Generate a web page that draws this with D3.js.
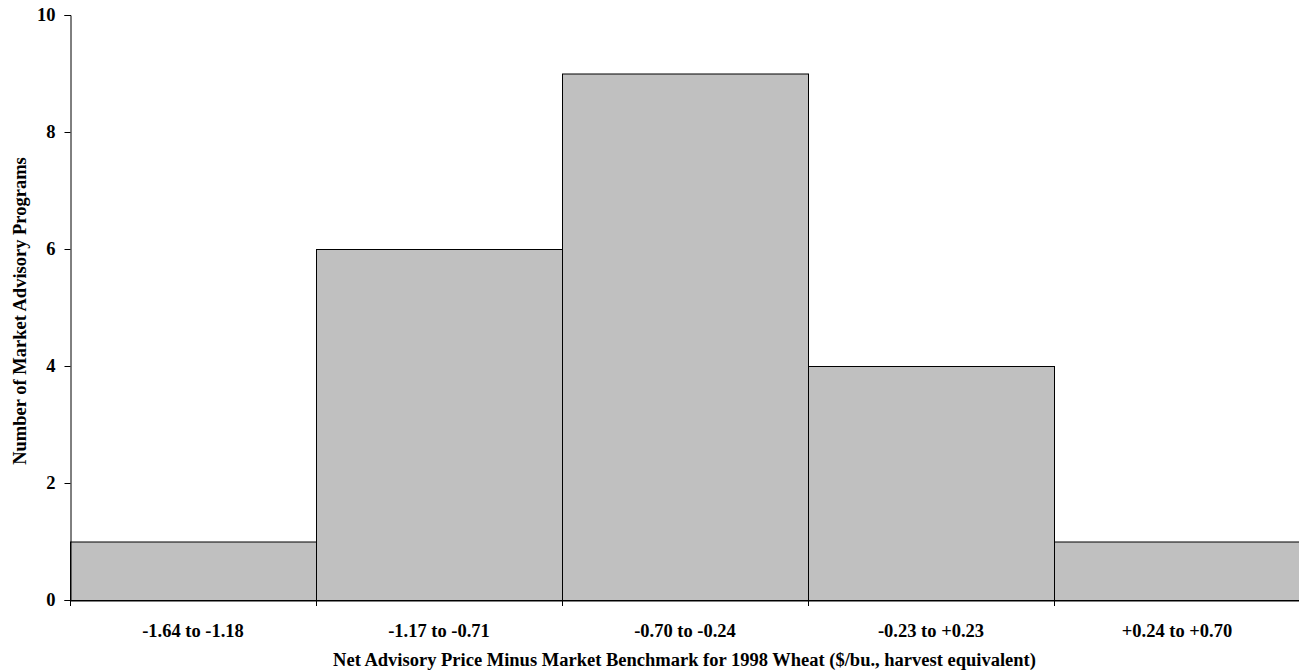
<!DOCTYPE html>
<html><head><meta charset="utf-8">
<script src="https://cdn.jsdelivr.net/npm/d3@7"></script>
<style>body{margin:0;background:#fff}svg{display:block}text{font-family:"Liberation Serif","Times New Roman",serif;font-weight:bold;fill:#000}</style>
</head><body><svg id="c" width="1299" height="672"></svg>
<script>
const categories = ["-1.64 to -1.18","-1.17 to -0.71","-0.70 to -0.24","-0.23 to +0.23","+0.24 to +0.70"];
const counts = [1,6,9,4,1];
const yTicks = [0,2,4,6,8,10];
const xTitle = "Net Advisory Price Minus Market Benchmark for 1998 Wheat ($/bu., harvest equivalent)";
const yTitle = "Number of Market Advisory Programs";

const svg = d3.select("#c");
const L = 70, R = 1300, T = 15, B = 600;
const FS = "18.5px";
const x = d3.scaleBand().domain(categories).range([L, R]).padding(0);
const y = d3.scaleLinear().domain([0, 10]).range([B, T]);

svg.append("g").selectAll("rect").data(counts).join("rect")
  .attr("x", (d,i) => x(categories[i]) + 0.5)
  .attr("y", d => y(d) + 0.5)
  .attr("width", x.bandwidth())
  .attr("height", d => B - y(d))
  .attr("fill", "#c0c0c0").attr("stroke", "#000").attr("stroke-width", 1);

// y axis
const ya = svg.append("g").attr("transform", `translate(${L + 0.5},0)`)
  .call(d3.axisLeft(y).tickValues(yTicks).tickSize(6).tickPadding(9).tickFormat(d3.format("d")));
ya.select(".domain").attr("stroke", "#000");
ya.selectAll("text").style("font-size", FS);

// x axis
const xa = svg.append("g").attr("transform", `translate(0,${B + 0.5})`)
  .call(d3.axisBottom(x).tickSize(0));
xa.select(".domain").attr("stroke", "#000");
xa.selectAll("text").style("font-size", FS).attr("y", 36).attr("dy", 0);
// boundary ticks
const bounds = categories.map(c => x(c));
svg.append("g").selectAll("line").data(bounds).join("line")
  .attr("x1", d => d + 0.5).attr("x2", d => d + 0.5)
  .attr("y1", B).attr("y2", B + 6).attr("stroke", "#000");

svg.append("text").attr("x", 684.5).attr("y", 666)
  .attr("text-anchor", "middle").style("font-size", FS).text(xTitle);
svg.append("text").attr("transform", `translate(26,311) rotate(-90)`)
  .attr("text-anchor", "middle").style("font-size", FS).text(yTitle);
</script></body></html>
